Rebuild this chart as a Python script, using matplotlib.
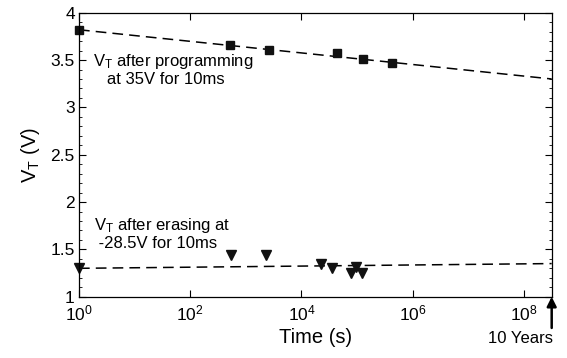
import numpy as np
import matplotlib
matplotlib.use("Agg")
import matplotlib.pyplot as plt

plt.rcParams['font.family'] = ['Liberation Sans', 'DejaVu Sans']
plt.rcParams['mathtext.fontset'] = 'custom'
plt.rcParams['mathtext.rm'] = 'Liberation Sans'
plt.rcParams['mathtext.it'] = 'Liberation Sans'

# Data
prog_t = [1, 520, 2640, 43000, 130000, 430000]
prog_v = [3.82, 3.66, 3.61, 3.57, 3.51, 3.47]
prog_fit_t = [1, 3.15e8]
prog_fit_v = [3.82, 3.30]

erase_t = [1, 540, 2300, 22000, 36000, 78000, 95000, 125000]
erase_v = [1.30, 1.44, 1.44, 1.35, 1.30, 1.25, 1.31, 1.25]
erase_fit_t = [1, 3.15e8]
erase_fit_v = [1.30, 1.35]

xticks = [1, 1e2, 1e4, 1e6, 1e8]
xticklabels = [r'$\mathregular{10^{0}}$', r'$\mathregular{10^{2}}$', r'$\mathregular{10^{4}}$',
               r'$\mathregular{10^{6}}$', r'$\mathregular{10^{8}}$']
yticks = [1, 1.5, 2, 2.5, 3, 3.5, 4]
yticklabels = ['1', '1.5', '2', '2.5', '3', '3.5', '4']

fig = plt.figure(figsize=(5.67, 3.58), dpi=100)
ax = fig.add_axes([0.1393, 0.1712, 0.8337, 0.7933])

dash = (0, (7, 4))
ax.plot(prog_fit_t, prog_fit_v, color='black', lw=1.1, ls=dash)
ax.plot(erase_fit_t, erase_fit_v, color='black', lw=1.1, ls=dash)
ax.plot(prog_t, prog_v, ls='none', marker='s', ms=6, color='#111111', clip_on=False)
ax.plot(erase_t, erase_v, ls='none', marker='v', ms=7.5, color='#111111', clip_on=False)

ax.set_xscale('log')
ax.set_xlim(1, 3.15e8)
ax.set_ylim(1, 4)
ax.set_xticks(xticks)
ax.set_xticklabels(xticklabels)
ax.xaxis.set_minor_locator(matplotlib.ticker.NullLocator())
ax.set_yticks(yticks)
ax.set_yticklabels(yticklabels)
ax.yaxis.set_minor_locator(matplotlib.ticker.MultipleLocator(0.1))
ax.tick_params(which='both', direction='in', top=True, right=True, labelsize=12.5, pad=3)
ax.tick_params(axis='x', which='major', pad=5)
ax.tick_params(which='major', length=5, width=0.8)
ax.tick_params(which='minor', length=2.5, width=0.6)
for s in ax.spines.values():
    s.set_linewidth(0.9)

ax.set_xlabel('Time (s)', fontsize=14.5, labelpad=3)
ax.set_ylabel(r'V$_\mathregular{T}$ (V)', fontsize=14.5, labelpad=6)

ax.text(1.75e0, 3.40, 'V$_\\mathregular{T}$ after programming\n   at 35V for 10ms',
        fontsize=12, va='center', ha='left', linespacing=1.1)
ax.text(1.85e0, 1.67, 'V$_\\mathregular{T}$ after erasing at\n -28.5V for 10ms',
        fontsize=12, va='center', ha='left', linespacing=1.1)

ax.annotate('', xy=(1.0, 0.0), xycoords='axes fraction',
            xytext=(1.0, -0.11), textcoords='axes fraction',
            arrowprops=dict(arrowstyle='-|>', color='black', lw=1.8, mutation_scale=14,
                            shrinkA=0, shrinkB=0))
ax.text(0.935, -0.12, '10 Years', transform=ax.transAxes, fontsize=12,
        ha='center', va='top')

fig.savefig('out.png', dpi=100)
